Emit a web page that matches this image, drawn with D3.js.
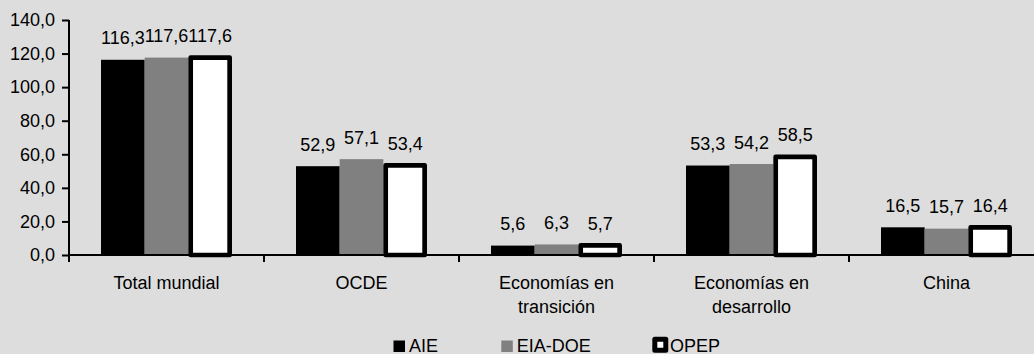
<!DOCTYPE html>
<html>
<head>
<meta charset="utf-8">
<script src="https://cdn.jsdelivr.net/npm/d3@7"></script>
<style>
html,body{margin:0;padding:0;background:#dddddd;}
svg{display:block;}
text{font-family:"Liberation Sans",Arial,sans-serif;fill:#000;}
</style>
</head>
<body>
<svg id="chart" width="1034" height="354"></svg>
<script>
const categories = [["Total mundial"], ["OCDE"], ["Economías en", "transición"], ["Economías en", "desarrollo"], ["China"]];
const seriesNames = ["AIE", "EIA-DOE", "OPEP"];
const aie = [116.3, 52.9, 5.6, 53.3, 16.5];
const eiaDoe = [117.6, 57.1, 6.3, 54.2, 15.7];
const opep = [117.6, 53.4, 5.7, 58.5, 16.4];
const yTicks = [0, 20, 40, 60, 80, 100, 120, 140];

const seriesValues = [aie, eiaDoe, opep];
const fills = ["#000000", "#808080", "#ffffff"];

const svg = d3.select("#chart");
svg.append("rect").attr("width", 1034).attr("height", 354).attr("fill", "#dddddd");

const plotLeft = 69, plotRight = 1044, plotTop = 20, plotBottom = 255;
const fontSize = 18;
const locale = d3.formatLocale({decimal: ",", thousands: ".", grouping: [3], currency: ["", ""]});
const fmt = locale.format(".1f");

const x0 = d3.scaleBand().domain(d3.range(categories.length)).range([plotLeft, plotRight]).padding(0);
const x1 = d3.scaleBand().domain(d3.range(seriesNames.length)).range([32, x0.bandwidth() - 32]).padding(0);
const y = d3.scaleLinear().domain([0, 140]).range([plotBottom, plotTop]);

// bars
const groups = svg.append("g").selectAll("g").data(categories).join("g")
  .attr("transform", (d, i) => `translate(${x0(i)},0)`);

groups.each(function(cat, ci) {
  const g = d3.select(this);
  seriesValues.forEach((vals, si) => {
    const v = vals[ci];
    const isOpep = si === 2;
    const inset = isOpep ? 2.35 : 0;
    g.append("rect")
      .attr("x", x1(si) + inset)
      .attr("y", y(v))
      .attr("width", x1.bandwidth() - inset * 2)
      .attr("height", y(0) - y(v))
      .attr("fill", fills[si])
      .attr("stroke", isOpep ? "#000" : "none")
      .attr("stroke-width", isOpep ? 4.7 : 0)
      .attr("stroke-linejoin", "round");
  });
});

// value labels
groups.each(function(cat, ci) {
  const g = d3.select(this);
  seriesValues.forEach((vals, si) => {
    const v = vals[ci];
    g.append("text")
      .attr("x", x1(si) + x1.bandwidth() / 2)
      .attr("y", y(v) - 15.5)
      .attr("text-anchor", "middle")
      .attr("font-size", fontSize)
      .text(fmt(v));
  });
});

// y axis
const yAxis = d3.axisLeft(y).tickValues(yTicks).tickSize(7).tickPadding(7).tickFormat(fmt);
const yg = svg.append("g").attr("transform", `translate(${plotLeft},0)`).call(yAxis);
yg.select(".domain").attr("stroke", "#000").attr("stroke-width", 2).attr("d", `M0,${plotTop}V${plotBottom + 6}`);
yg.selectAll(".tick line").attr("stroke", "#000").attr("stroke-width", 2);
yg.selectAll(".tick text").attr("font-size", fontSize).attr("font-family", "Liberation Sans, Arial, sans-serif").attr("fill", "#000");

// x axis
const xg = svg.append("g");
xg.append("line").attr("x1", plotLeft).attr("x2", plotRight).attr("y1", plotBottom).attr("y2", plotBottom)
  .attr("stroke", "#000").attr("stroke-width", 2);
xg.selectAll("line.tk").data(d3.range(categories.length + 1)).join("line").attr("class", "tk")
  .attr("x1", i => plotLeft + i * x0.bandwidth()).attr("x2", i => plotLeft + i * x0.bandwidth())
  .attr("y1", plotBottom).attr("y2", plotBottom + 7)
  .attr("stroke", "#000").attr("stroke-width", 2);

const catText = xg.selectAll("text.cat").data(categories).join("text").attr("class", "cat")
  .attr("x", (d, i) => x0(i) + x0.bandwidth() / 2)
  .attr("y", 289)
  .attr("text-anchor", "middle")
  .attr("font-size", fontSize);
catText.each(function(lines) {
  const t = d3.select(this);
  lines.forEach((ln, li) => {
    t.append("tspan").attr("x", t.attr("x")).attr("dy", li === 0 ? 0 : 23.5).text(ln);
  });
});

// legend
const legendX = [393.5, 501.3, 654.8];
const lg = svg.append("g");
seriesNames.forEach((name, si) => {
  if (si === 2) {
    lg.append("rect").attr("x", legendX[si]).attr("y", 339.3).attr("width", 11).attr("height", 11)
      .attr("fill", "#fff").attr("stroke", "#000").attr("stroke-width", 5).attr("stroke-linejoin", "round");
    lg.append("text").attr("x", 670).attr("y", 351.5).attr("font-size", fontSize).text(name);
  } else {
    lg.append("rect").attr("x", legendX[si]).attr("y", 340.5).attr("width", 11.5).attr("height", 11.5)
      .attr("fill", fills[si]);
    lg.append("text").attr("x", legendX[si] + 15.5).attr("y", 351.5).attr("font-size", fontSize).text(name);
  }
});
</script>
</body>
</html>
